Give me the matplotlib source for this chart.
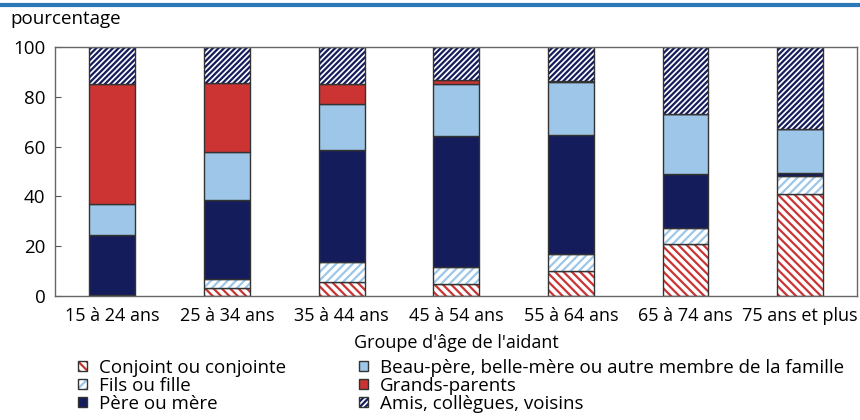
import matplotlib.pyplot as plt
import numpy as np
from matplotlib.patches import Patch
from matplotlib.lines import Line2D

plt.rcParams['font.family'] = ['Open Sans', 'DejaVu Sans']
plt.rcParams['hatch.linewidth'] = 1.6

# données (pourcentage)
groupes = ['15 à 24 ans', '25 à 34 ans', '35 à 44 ans', '45 à 54 ans',
           '55 à 64 ans', '65 à 74 ans', '75 ans et plus']
conjoint = [0.5, 3.3, 5.5, 4.7, 10.0, 21.0, 41.0]
fils = [0.0, 3.5, 8.0, 6.8, 7.0, 6.5, 7.3]
pere = [24.0, 31.7, 45.0, 52.8, 47.5, 21.5, 1.2]
beau = [12.5, 19.5, 18.5, 21.0, 21.5, 24.0, 17.5]
grands = [48.0, 27.5, 8.0, 1.5, 0.5, 0.3, 0.0]
amis = [15.0, 14.5, 15.0, 13.2, 13.5, 26.7, 33.0]

series = [
    ('Conjoint ou conjointe', conjoint, 'white', '#cc3333', '\\\\\\\\'),
    ('Fils ou fille', fils, 'white', '#9dc6e8', '////'),
    ('Père ou mère', pere, '#141c5c', None, None),
    ('Beau-père, belle-mère ou autre membre de la famille', beau, '#9dc6e8', None, None),
    ('Grands-parents', grands, '#cc3333', None, None),
    ('Amis, collègues, voisins', amis, 'white', '#141c5c', '//////'),
]

fig = plt.figure(figsize=(8.6, 4.2), dpi=100)
ax = fig.add_axes([0.064, 0.295, 0.933, 0.593])

x = np.arange(len(groupes))
bottom = np.zeros(len(groupes))
handles = []
labels = []
for nom, vals, fc, hc, hatch in series:
    vals = np.array(vals)
    if hatch:
        # hachures colorées, puis contour gris foncé par-dessus
        ax.bar(x, vals, 0.4, bottom=bottom, color=fc, edgecolor=hc,
               hatch=hatch, linewidth=0)
        ax.bar(x, vals, 0.4, bottom=bottom, color='none', edgecolor='#333333',
               linewidth=1.0)
        h = (Patch(facecolor=fc, edgecolor=hc, hatch=hatch, linewidth=0),
             Patch(facecolor='none', edgecolor='#333333', linewidth=1.0))
    else:
        ax.bar(x, vals, 0.4, bottom=bottom, color=fc, edgecolor='#333333',
               linewidth=1.0)
        h = Patch(facecolor=fc, edgecolor='#333333', linewidth=1.0)
    handles.append(h)
    labels.append(nom)
    bottom += vals

ax.set_xlim(-0.5, len(groupes) - 0.5)
ax.set_ylim(0, 100)
ax.set_yticks([0, 20, 40, 60, 80, 100])
ax.set_xticks(x)
ax.set_xticklabels(groupes)
ax.tick_params(axis='x', length=0, labelsize=13, pad=8)
ax.tick_params(axis='y', direction='in', length=4, labelsize=13.5, pad=7,
               color='#555555')
for s in ax.spines.values():
    s.set_color('#666666')
    s.set_linewidth(1.0)
ax.set_xlabel("Groupe d'âge de l'aidant", fontsize=13, labelpad=6)

fig.text(0.012, 0.955, 'pourcentage', fontsize=13.5, va='center', ha='left')
fig.add_artist(Line2D([0, 1], [0.988, 0.988], color='#2a78b8', linewidth=3,
                      transform=fig.transFigure))

fig.legend(handles, labels, ncol=2, loc='upper left',
           bbox_to_anchor=(0.091, 0.145), frameon=False, fontsize=13.5,
           handlelength=0.45, handleheight=0.45, handletextpad=0.65,
           labelspacing=0.0, columnspacing=3.9, borderaxespad=0,
           borderpad=0)

fig.savefig('out.png', dpi=100)
